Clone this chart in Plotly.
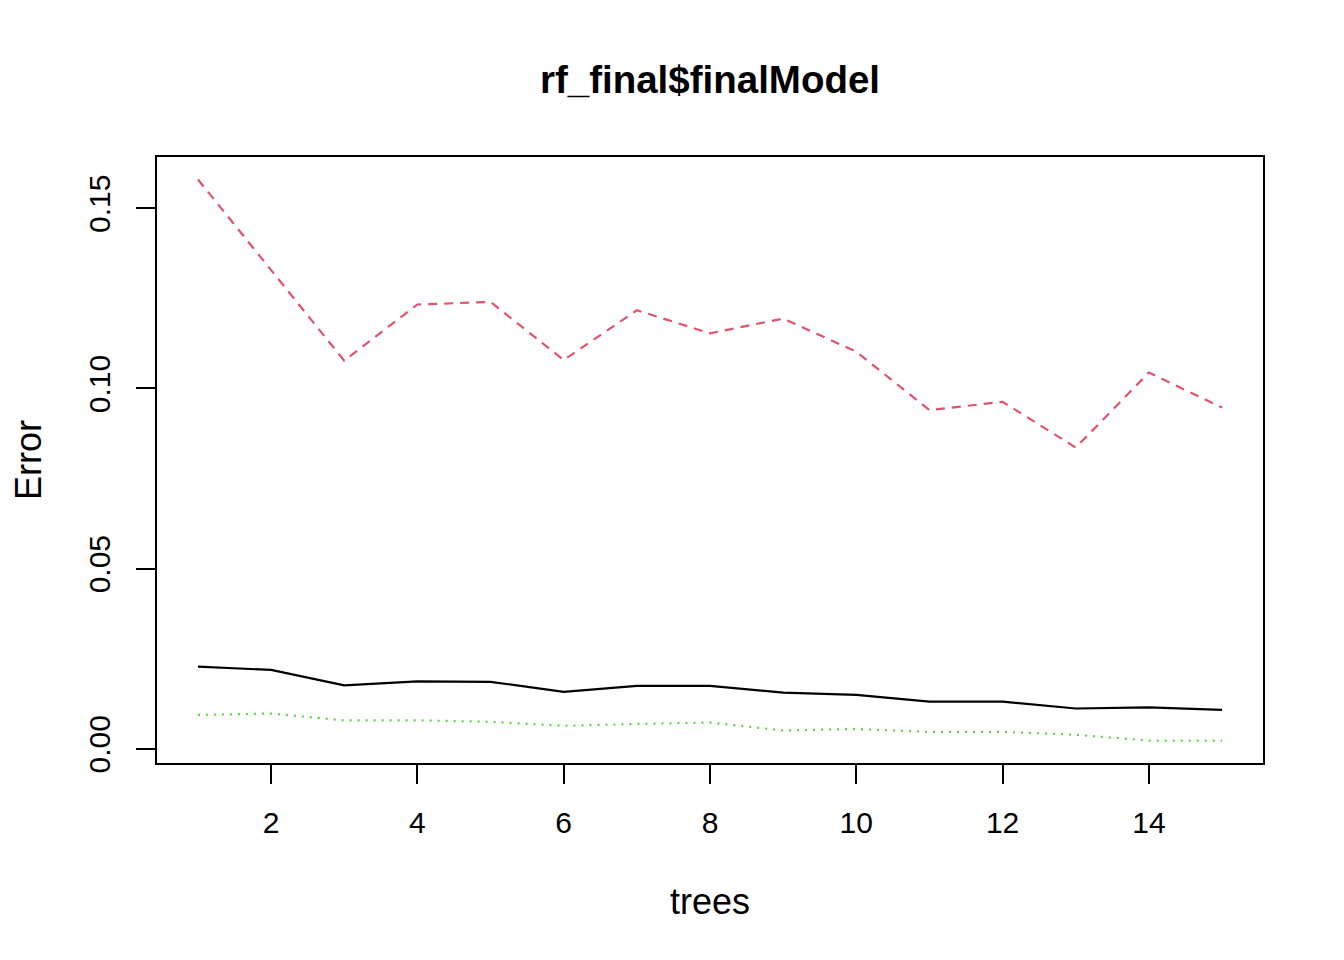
#!/usr/bin/env python3
# -*- coding:utf-8 -*-

import plotly.graph_objects as go


# number of trees on the x axis
TREES = list(range(1, 16))

# error rates
OOB_ERR = [
	0.0228, 0.0219, 0.0176, 0.0187, 0.0186, 0.0158, 0.0175, 0.0175,
	0.0156, 0.0150, 0.0131, 0.0131, 0.0112, 0.0115, 0.0108,
]
CLASS1_ERR = [
	0.1580, 0.1328, 0.1077, 0.1233, 0.1240, 0.1079, 0.1217, 0.1153,
	0.1194, 0.1102, 0.0940, 0.0963, 0.0836, 0.1044, 0.0947,
]
CLASS2_ERR = [
	0.0094, 0.0098, 0.0079, 0.0079, 0.0075, 0.0064, 0.0069, 0.0073,
	0.0051, 0.0055, 0.0047, 0.0047, 0.0039, 0.0023, 0.0023,
]

X_TICKS = [2, 4, 6, 8, 10, 12, 14]
Y_TICKS = [0.0, 0.05, 0.10, 0.15]
Y_TICK_LABELS = ['0.00', '0.05', '0.10', '0.15']

FONT = 'Liberation Sans, Arial, sans-serif'

SERIES = [
	(OOB_ERR,    'OOB', { 'color': '#000000', 'width': 2.2, 'dash': 'solid' }),
	(CLASS1_ERR, '1',   { 'color': '#DF536B', 'width': 2.2, 'dash': '9px,7px' }),
	(CLASS2_ERR, '2',   { 'color': '#61D04F', 'width': 2.2, 'dash': '2px,6px' }),
]

# the page adds an 8px body margin, so margins are shifted by that
PAGE_OFFSET = 8


def GenerateFigure() -> go.Figure:
	fig = go.Figure()

	for ys, name, line in SERIES:
		fig.add_trace(
			go.Scatter(
				x=TREES,
				y=ys,
				name=name,
				mode='lines',
				line=line,
			)
		)

	# R style padding: 4% on each side
	xMin, xMax = min(TREES), max(TREES)
	xPad = (xMax - xMin) * 0.04
	allY = OOB_ERR + CLASS1_ERR + CLASS2_ERR
	yMin, yMax = min(allY), max(allY)
	yPad = (yMax - yMin) * 0.04

	fig.update_layout(
		width=1344,
		height=960,
		margin={
			'l': 157 - PAGE_OFFSET,
			'r': 81 + PAGE_OFFSET,
			't': 157 - PAGE_OFFSET,
			'b': 197 + PAGE_OFFSET,
		},
		paper_bgcolor='white',
		plot_bgcolor='white',
		showlegend=False,
		font=dict(family=FONT, size=30, color='black'),
		title=dict(
			text='<b>rf_final$finalModel</b>',
			font=dict(family=FONT, size=38.5, color='black'),
			x=(710 - PAGE_OFFSET) / 1344,
			xanchor='center',
			y=1 - (80 - PAGE_OFFSET) / 960,
			yanchor='middle',
		),
	)

	fig.update_xaxes(
		range=[xMin - xPad, xMax + xPad],
		tickmode='array',
		tickvals=X_TICKS,
		ticks='outside',
		ticklen=19,
		tickwidth=2,
		tickcolor='black',
		ticklabelstandoff=13,
		showgrid=False,
		zeroline=False,
		showline=True,
		linecolor='black',
		linewidth=2,
		mirror=True,
		title=dict(text='trees', standoff=51),
	)
	fig.update_yaxes(
		range=[yMin - yPad, yMax + yPad],
		tickmode='array',
		tickvals=Y_TICKS,
		ticktext=Y_TICK_LABELS,
		tickangle=-90,
		ticks='outside',
		ticklen=19,
		tickwidth=2,
		tickcolor='black',
		ticklabelstandoff=14,
		showgrid=False,
		zeroline=False,
		showline=True,
		linecolor='black',
		linewidth=2,
		mirror=True,
		title=dict(text='Error', standoff=38),
	)

	return fig


def main() -> None:
	fig = GenerateFigure()
	fig.write_html('out.html')


if __name__ == '__main__':
	main()
